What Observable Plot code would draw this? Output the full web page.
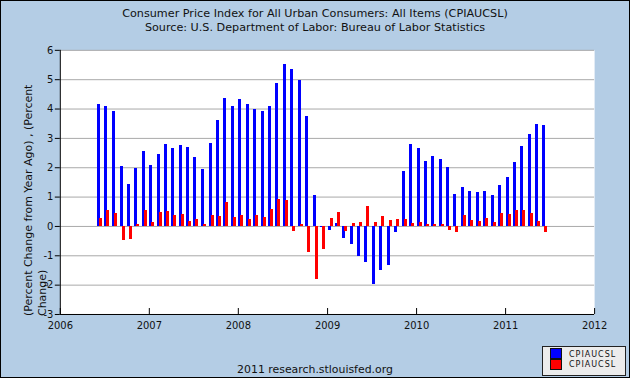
<!DOCTYPE html>
<html>
<head>
<meta charset="utf-8">
<script src="https://cdn.jsdelivr.net/npm/d3@7"></script>
<script src="https://cdn.jsdelivr.net/npm/@observablehq/plot@0.6"></script>
<style>
  html, body { margin: 0; padding: 0; background: #ffffff; }
  #chart { position: relative; width: 630px; height: 378px; background: #b4cde5; box-sizing: border-box;
           border: 1px solid #000; overflow: hidden; font-family: "DejaVu Sans", sans-serif; color: #111; }
  #chart > svg { position: absolute; left: -1px; top: -1px; }
  .ttl { position: absolute; left: -1px; width: 630px; text-align: center; font-size: 11.2px; line-height: 13.5px; white-space: nowrap; }
  #legend { position: absolute; left: 541px; top: 345px; width: 84px; height: 30px; box-sizing: border-box;
            background: #ececec; border: 1px solid #222; }
  .sw { position: absolute; left: 7px; width: 10px; height: 9px; border: 1px solid #111; }
  .lt { position: absolute; left: 26px; font-size: 8px; letter-spacing: 1px; line-height: 10px; color: #111; }
</style>
</head>
<body>
<div id="chart">
  <div class="ttl" style="top:6px">Consumer Price Index for All Urban Consumers: All Items (CPIAUCSL)<br>Source: U.S. Department of Labor: Bureau of Labor Statistics</div>
  <div class="ttl" style="top:362px;font-size:10.9px">2011 research.stlouisfed.org</div>
</div>
<script>
// ---- data ----
const firstMonth = "2006-06-01";
const lastMonth = "2011-06-01";
// Percent Change from Year Ago (blue)
const yoyValues = [
  4.17, 4.10, 3.93, 2.04, 1.43, 1.97, 2.55,                          // 2006 Jun-Dec
  2.07, 2.45, 2.78, 2.65, 2.75, 2.68, 2.35, 1.94, 2.82, 3.60, 4.37, 4.10, // 2007
  4.34, 4.14, 4.00, 3.93, 4.10, 4.88, 5.52, 5.36, 4.98, 3.73, 1.06, -0.05, // 2008
  -0.15, 0.11, -0.42, -0.62, -1.03, -1.23, -1.97, -1.50, -1.33, -0.21, 1.87, 2.78, // 2009
  2.65, 2.21, 2.38, 2.28, 2.01, 1.09, 1.33, 1.19, 1.16, 1.19, 1.06, 1.40, // 2010
  1.67, 2.18, 2.72, 3.12, 3.46, 3.43                                   // 2011 Jan-Jun
];
// Percent Change (month over month, red)
const momValues = [
  0.28, 0.55, 0.45, -0.48, -0.45, 0.08, 0.55,
  0.15, 0.46, 0.52, 0.38, 0.42, 0.18, 0.25, 0.05, 0.38, 0.35, 0.82, 0.32,
  0.38, 0.25, 0.38, 0.32, 0.59, 0.92, 0.89, -0.16, 0.05, -0.90, -1.81, -0.80,
  0.28, 0.48, -0.16, 0.11, 0.15, 0.69, 0.15, 0.35, 0.21, 0.25, 0.25, 0.11,
  0.15, 0.08, 0.05, 0.05, -0.15, -0.22, 0.38, 0.21, 0.18, 0.28, 0.15, 0.45,
  0.42, 0.55, 0.55, 0.45, 0.18, -0.22
];
const seriesNames = ["CPIAUCSL", "CPIAUCSL"];
const seriesColors = ["#0000ff", "#ff0000"];
const yTicks = [-3, -2, -1, 0, 1, 2, 3, 4, 5, 6];
const yearLabels = ["2006", "2007", "2008", "2009", "2010", "2011", "2012"];
const yLabelLines = ["(Percent Change from Year Ago) , (Percent", "Change)"];

// ---- build table ----
const months = d3.utcMonth.range(new Date(firstMonth), d3.utcMonth.offset(new Date(lastMonth), 1));
const data = months.map((d, i) => ({date: d, yoy: yoyValues[i], mom: momValues[i]}));
const yearTicks = yearLabels.map(y => new Date(y + "-01-01"));
const xDomain = [yearTicks[0], yearTicks[yearTicks.length - 1]];
const yDomain = [yTicks[0], yTicks[yTicks.length - 1]];

const plot = Plot.plot({
  width: 630,
  height: 378,
  marginLeft: 60,
  marginRight: 34,
  marginTop: 50,
  marginBottom: 63,
  style: {background: "transparent", fontFamily: "DejaVu Sans, sans-serif", fontSize: "10px", color: "#111", overflow: "visible"},
  x: {type: "utc", domain: xDomain},
  y: {domain: yDomain},
  marks: [
    Plot.frame({fill: "white", stroke: null}),
    Plot.gridY(yTicks, {stroke: "#a9a9a9", strokeOpacity: 1, strokeWidth: 1}),
    Plot.ruleX(data, {x: "date", y1: 0, y2: "yoy", stroke: seriesColors[0], strokeWidth: 3, dx: 1.5, shapeRendering: "crispEdges"}),
    Plot.ruleX(data, {x: "date", y1: 0, y2: "mom", stroke: seriesColors[1], strokeWidth: 3, dx: 3.5, shapeRendering: "crispEdges"}),
    Plot.axisY(yTicks, {tickSize: 5, tickPadding: 2, tickFormat: d => String(d), label: null, stroke: "#000", fill: "#111"}),
    Plot.axisX(yearTicks, {tickSize: 0, tickPadding: 7, tickFormat: d3.utcFormat("%Y"), label: null, fill: "#111"}),
    Plot.ruleX(yearTicks, {insetTop: 259, stroke: "#000"}),
    Plot.ruleX([xDomain[0]], {stroke: "#000"}),
    Plot.ruleY([yDomain[0]], {stroke: "#000"})
  ]
});

const chart = document.getElementById("chart");
chart.appendChild(plot);

// y-axis label (two rotated lines, anchored at the bottom of the frame)
const svg = d3.select(plot);
const yl = svg.append("text")
  .attr("transform", "translate(32,317) rotate(-90)")
  .attr("font-family", "DejaVu Sans, sans-serif")
  .attr("font-size", 11)
  .attr("fill", "#111")
  .attr("text-anchor", "start");
yLabelLines.forEach((t, i) => yl.append("tspan").attr("x", 0).attr("y", i * 14).text(t));

// legend
const lg = document.createElement("div");
lg.id = "legend";
seriesNames.forEach((name, i) => {
  const sw = document.createElement("div");
  sw.className = "sw";
  sw.style.top = (1 + i * 11) + "px";
  sw.style.background = seriesColors[i];
  lg.appendChild(sw);
  const lt = document.createElement("div");
  lt.className = "lt";
  lt.style.top = (3 + i * 10) + "px";
  lt.textContent = name;
  lg.appendChild(lt);
});
chart.appendChild(lg);
</script>
</body>
</html>
